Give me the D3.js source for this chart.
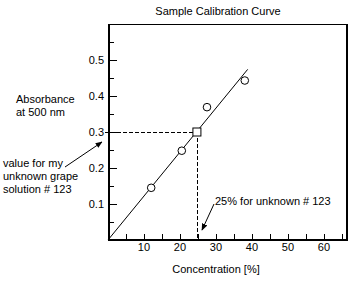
<!DOCTYPE html>
<html><head><meta charset="utf-8">
<script src="https://cdn.jsdelivr.net/npm/d3@7"></script>
<style>
html,body{margin:0;padding:0;background:#fff;}
text{font-family:"Liberation Sans",Arial,sans-serif;font-size:11px;fill:#000;}
</style></head>
<body><svg id="c" width="352" height="282"></svg>
<script>
// Data
const concentrations = [12, 20.5, 27.5, 38];
const absorbances = [0.145, 0.248, 0.369, 0.443];
const unknownConc = [24.7];
const unknownAbs = [0.3];
const fitConc = [0, 38.8];
const fitAbs = [0, 0.474];
const xTicks = [5,10,15,20,25,30,35,40,45,50,55,60,65];
const xTickLabels = [10,20,30,40,50,60];
const yTicks = [0.05,0.1,0.15,0.2,0.25,0.3,0.35,0.4,0.45,0.5,0.55];
const yTickLabels = [0.1,0.2,0.3,0.4,0.5];

const svg = d3.select("#c");
const x = d3.scaleLinear().domain([0, 66.67]).range([108, 348]);
const y = d3.scaleLinear().domain([0, 0.6]).range([240, 24]);

const defs = svg.append("defs");
defs.append("marker").attr("id","ah").attr("viewBox","0 0 10 10").attr("refX",9).attr("refY",5)
  .attr("markerWidth",7).attr("markerHeight",7).attr("orient","auto").attr("markerUnits","userSpaceOnUse")
  .append("path").attr("d","M0,1 L10,5 L0,9 Z").attr("fill","#000");

// Title
svg.append("text").attr("x",218).attr("y",15).attr("text-anchor","middle").text("Sample Calibration Curve");

// Frame
const x0 = x(0), x1 = x(66.67), yb = y(0), yt = y(0.6);
svg.append("line").attr("x1",x0).attr("x2",x1).attr("y1",yt+0.5).attr("y2",yt+0.5).attr("stroke","#000");
svg.append("line").attr("x1",x0+1).attr("x2",x0+1).attr("y1",yt).attr("y2",yb+1).attr("stroke","#000").attr("stroke-width",2);
svg.append("line").attr("x1",x0).attr("x2",x1).attr("y1",yb).attr("y2",yb).attr("stroke","#000").attr("stroke-width",2);
svg.append("line").attr("x1",x1-1).attr("x2",x1-1).attr("y1",yt).attr("y2",yb+1).attr("stroke","#000").attr("stroke-width",2);

// Y ticks (inward)
svg.selectAll(".yt").data(yTicks).join("line")
  .attr("x1",x(0)).attr("x2",d => x(0) + (yTickLabels.some(v=>Math.abs(v-d)<1e-9) ? 9 : 6))
  .attr("y1",d=>Math.round(y(d))+0.5).attr("y2",d=>Math.round(y(d))+0.5)
  .attr("stroke","#000");
svg.selectAll(".yl").data(yTickLabels).join("text")
  .attr("x",104).attr("y",d=>y(d)+4).attr("text-anchor","end").text(d=>d3.format(".1f")(d));

// X ticks (inward)
svg.selectAll(".xt").data(xTicks).join("line")
  .attr("x1",d=>Math.round(x(d))+0.5).attr("x2",d=>Math.round(x(d))+0.5)
  .attr("y1",y(0)).attr("y2",y(0)-6).attr("stroke","#000");
svg.selectAll(".xl").data(xTickLabels).join("text")
  .attr("x",d=>x(d)).attr("y",251).attr("text-anchor","middle").text(d=>d);

// Axis titles
svg.append("text").attr("x",216).attr("y",273).attr("text-anchor","middle").text("Concentration [%]");
svg.append("text").attr("x",16).attr("y",103).text("Absorbance");
svg.append("text").attr("x",16).attr("y",116).text("at 500 nm");

// Fit line
svg.append("line").attr("x1",x(fitConc[0])).attr("y1",y(fitAbs[0]))
  .attr("x2",x(fitConc[1])).attr("y2",y(fitAbs[1])).attr("stroke","#000");

// Dashed guides
svg.append("line").attr("x1",x(0)-3).attr("x2",x(unknownConc[0]))
  .attr("y1",Math.round(y(unknownAbs[0]))+0.5).attr("y2",Math.round(y(unknownAbs[0]))+0.5)
  .attr("stroke","#000").attr("stroke-dasharray","4,2");
svg.append("line").attr("x1",Math.round(x(unknownConc[0]))+0.5).attr("x2",Math.round(x(unknownConc[0]))+0.5)
  .attr("y1",y(unknownAbs[0])).attr("y2",y(0))
  .attr("stroke","#000").attr("stroke-dasharray","4,2");

// Points
svg.selectAll(".pt").data(concentrations).join("circle")
  .attr("cx",(d)=>x(d)).attr("cy",(d,i)=>y(absorbances[i])).attr("r",3.8)
  .attr("fill","#fff").attr("stroke","#000");
svg.selectAll(".uk").data(unknownConc).join("rect")
  .attr("x",d=>x(d)-4).attr("y",(d,i)=>y(unknownAbs[i])-4).attr("width",8).attr("height",8)
  .attr("fill","#fff").attr("stroke","#000");

// Annotations
svg.append("text").attr("x",3).attr("y",167).text("value for my");
svg.append("text").attr("x",3).attr("y",180).text("unknown grape");
svg.append("text").attr("x",3).attr("y",193).text("solution # 123");
svg.append("line").attr("x1",65).attr("y1",167).attr("x2",102).attr("y2",142)
  .attr("stroke","#000").attr("marker-end","url(#ah)");

svg.append("text").attr("x",215).attr("y",205).text("25% for unknown # 123");
svg.append("line").attr("x1",214).attr("y1",204).attr("x2",202).attr("y2",230)
  .attr("stroke","#000").attr("marker-end","url(#ah)");
</script></body></html>
